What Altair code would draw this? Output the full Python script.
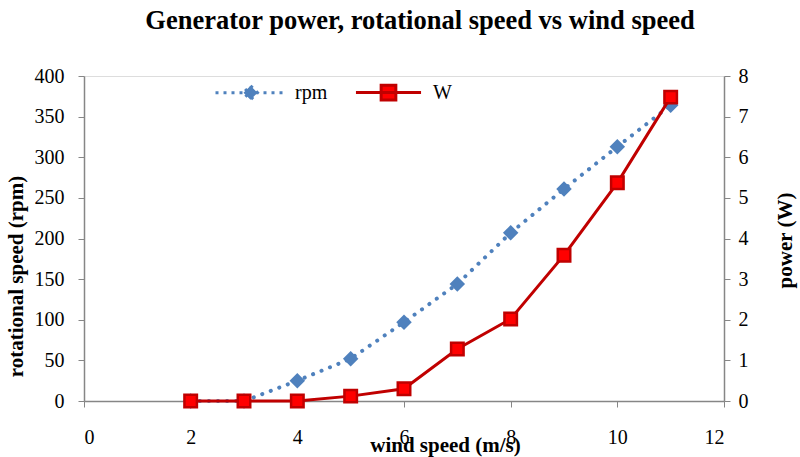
import altair as alt
import pandas as pd

wind = [2, 3, 4, 5, 6, 7, 8, 9, 10, 11]
rpm = [0, 0, 25, 52, 97, 144, 207, 261, 313, 364]
power = [0, 0, 0, 0.12, 0.30, 1.28, 2.02, 3.59, 5.37, 7.48]
x_ticks = [0, 2, 4, 6, 8, 10, 12]
rpm_ticks = [0, 50, 100, 150, 200, 250, 300, 350, 400]
w_ticks = [0, 1, 2, 3, 4, 5, 6, 7, 8]
series = ["rpm", "W"]

BLUE = "#4F81BD"
RED_LINE = "#C00000"
RED_FILL = "#FF0000"
GREY = "#868686"
FONT = "Liberation Serif"
LBL = 20
TTL = 21

df = pd.DataFrame({"wind": wind, "rpm": rpm, "power": power})

x_axis = alt.Axis(values=x_ticks, title="wind speed (m/s)", grid=False,
                  domainColor=GREY, domainWidth=1.5, tickColor=GREY, tickSize=6,
                  labelFont=FONT, labelFontSize=LBL, labelColor="black", labelPadding=20,
                  titleFont=FONT, titleFontSize=TTL, titleFontWeight="bold", titleColor="black",
                  titleX=361, titleY=44, titleBaseline="middle", titleAlign="center")
x_enc = alt.X("wind:Q", scale=alt.Scale(domain=[0, 12], nice=False), axis=x_axis)

left_axis = alt.Axis(values=rpm_ticks, title="rotational speed (rpm)", grid=False, orient="left",
                     domainColor=GREY, domainWidth=1.5, tickColor=GREY, tickSize=6,
                     labelFont=FONT, labelFontSize=LBL, labelColor="black", labelPadding=14,
                     titleFont=FONT, titleFontSize=TTL, titleFontWeight="bold", titleColor="black",
                     titleAngle=270, titleX=-68, titleY=200, titleBaseline="middle", titleAlign="center")
right_axis = alt.Axis(values=w_ticks, title="power (W)", grid=False, orient="right",
                      domainColor=GREY, domainWidth=1.5, tickColor=GREY, tickSize=6,
                      labelFont=FONT, labelFontSize=LBL, labelColor="black", labelPadding=8,
                      titleFont=FONT, titleFontSize=TTL, titleFontWeight="bold", titleColor="black",
                      titleAngle=270, titleX=61, titleY=164, titleBaseline="middle", titleAlign="center")

y_rpm = alt.Y("rpm:Q", scale=alt.Scale(domain=[0, 400], nice=False), axis=left_axis)
y_w = alt.Y("power:Q", scale=alt.Scale(domain=[0, 8], nice=False), axis=right_axis)

rpm_path = "M-1,0L1,0M0,-0.2L0.2,0L0,0.2L-0.2,0Z"
w_path = "M-0.93,0L0.93,0M-0.21,-0.21L0.21,-0.21L0.21,0.21L-0.21,0.21Z"

legend = alt.Legend(
    orient="none", legendX=130, legendY=-20, direction="horizontal", title=None,
    symbolSize=4900, symbolStrokeWidth=3, symbolOpacity=1,
    labelFont=FONT, labelFontSize=LBL, labelColor="black",
    labelOffset=8, columnPadding=21,
)

base = alt.Chart(df)

rpm_line = base.mark_line(color=BLUE, strokeWidth=4, strokeDash=[0.1, 9], strokeCap="round").encode(
    x=x_enc, y=y_rpm)
rpm_pts = base.mark_point(shape="diamond", filled=True, size=240, color=BLUE, opacity=1).encode(
    x=x_enc, y=y_rpm)

w_line = base.mark_line(strokeWidth=3, color=RED_LINE).encode(x=x_enc, y=y_w)
w_pts = base.mark_point(shape="square", filled=True, size=156, fill=RED_FILL, stroke=RED_LINE,
                        strokeWidth=2.5, opacity=1).encode(x=x_enc, y=y_w)

# legend-only layer (no rows drawn); domain set explicitly so both entries show
legend_layer = base.transform_calculate(series="'rpm'").transform_filter("false").mark_point(
    filled=True, strokeWidth=3).encode(
    fill=alt.Fill("series:N", scale=alt.Scale(domain=series, range=[BLUE, RED_FILL]), legend=legend),
    stroke=alt.Stroke("series:N", scale=alt.Scale(domain=series, range=[BLUE, RED_LINE]), legend=legend),
    shape=alt.Shape("series:N", scale=alt.Scale(domain=series, range=[rpm_path, w_path]), legend=legend),
    strokeDash=alt.StrokeDash("series:N", scale=alt.Scale(domain=series, range=[[3, 5], [1, 0]]), legend=legend),
)

chart = alt.layer(
    alt.layer(rpm_line, rpm_pts),
    alt.layer(w_line, w_pts),
    legend_layer,
).resolve_scale(y="independent").properties(
    width=640, height=325,
    title=alt.Title("Generator power, rotational speed vs wind speed", font=FONT, fontSize=26.5,
                    fontWeight="bold", color="black", anchor="middle", offset=22, dx=16),
    autosize=alt.AutoSizeParams(type="none"),
    padding={"left": 84, "top": 76, "right": 76, "bottom": 56},
).configure_view(stroke=None).configure(background="white")

chart.save("out.html", embed_options={"renderer": "svg", "actions": False})
